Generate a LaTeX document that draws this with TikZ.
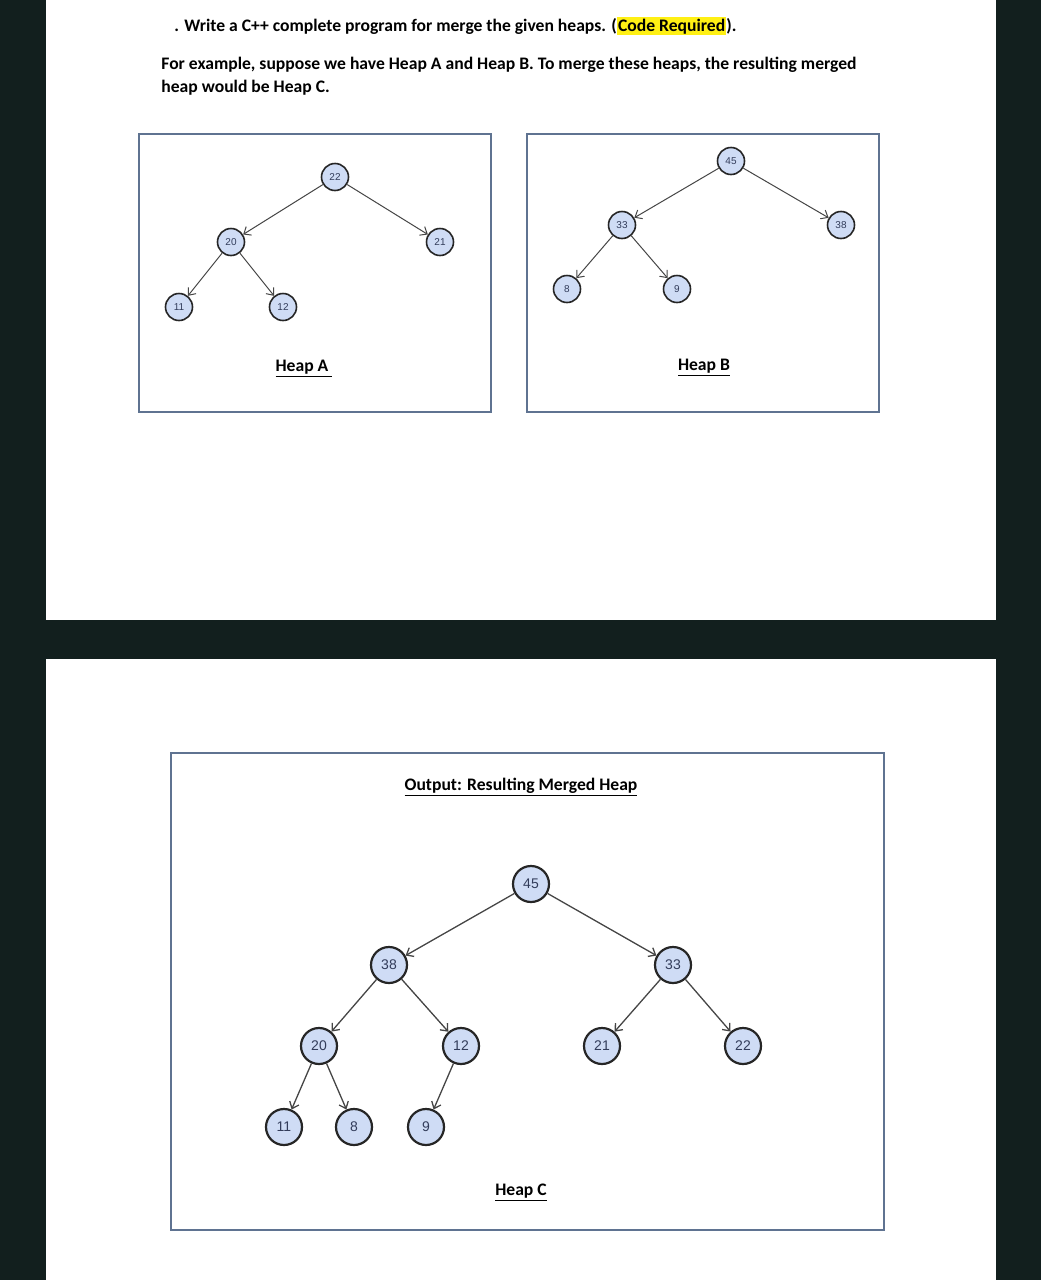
\documentclass[tikz,border=0pt]{standalone}
\usepackage{fontspec}
\setmainfont{Carlito}
\newfontfamily\numfont{Liberation Sans}
\usetikzlibrary{arrows.meta}

\definecolor{pagebg}{RGB}{18,31,30}
\definecolor{nodefill}{RGB}{207,220,245}
\definecolor{numtext}{RGB}{50,60,90}
\definecolor{boxline}{RGB}{95,115,145}
\definecolor{edgegray}{RGB}{70,70,70}
\definecolor{markyellow}{RGB}{255,240,20}

\tikzset{
  heapnode/.style={circle, draw=black!85, fill=nodefill, line width=0.8pt,
    minimum size=13.5pt, inner sep=0pt, text=numtext,
    font=\numfont\fontsize{5}{6}\selectfont},
  bignode/.style={heapnode, line width=1.1pt, minimum size=18pt,
    font=\numfont\fontsize{7}{8}\selectfont},
  heapedge/.style={draw=edgegray, line width=0.5pt,
    -{Straight Barb[length=3pt,width=5pt]}},
  bigedge/.style={heapedge, line width=0.65pt},
  heapbox/.style={draw=boxline, line width=0.7pt},
  pagetext/.style={anchor=base west, inner sep=0pt,
    font=\fontsize{8.8}{10}\bfseries},
  heaplabel/.style={anchor=base, inner sep=0pt, font=\fontsize{8.8}{10}\bfseries}
}

\begin{document}
\begin{tikzpicture}[x=0.5pt, y=-0.5pt]
	\useasboundingbox (0,0) rectangle (1041,1280);
	% Background and pages
	\fill[pagebg] (0,0) rectangle (1041,1280);
	\fill[white] (46,0) rectangle (996,620);
	\fill[white] (46,659) rectangle (996,1280);
	
	% Question text
	\node[pagetext] (q1) at (174,31) {. Write a C++ complete program for merge the given heaps. ({\setlength\fboxsep{0.6pt}\colorbox{markyellow}{Code Required}}).};
	\node[pagetext] (q2) at (161,69) {For example, suppose we have Heap A and Heap B. To merge these heaps, the resulting merged};
	\node[pagetext] (q3) at (161,92) {heap would be Heap C.};
	
	% Heap A
	\draw[heapbox] (139,134) rectangle (491,412);
	\node[heapnode] (a22) at (335,177) {22};
	\node[heapnode] (a20) at (231,242) {20};
	\node[heapnode] (a21) at (440,242) {21};
	\node[heapnode] (a11) at (179,307) {11};
	\node[heapnode] (a12) at (283,307) {12};
	\draw[heapedge] (a22) -- (a20);
	\draw[heapedge] (a22) -- (a21);
	\draw[heapedge] (a20) -- (a11);
	\draw[heapedge] (a20) -- (a12);
	\node[heaplabel] (labA) at (304,371) {\underline{Heap A\ }};
	
	% Heap B
	\draw[heapbox] (527,134) rectangle (879,412);
	\node[heapnode] (b45) at (731,161) {45};
	\node[heapnode] (b33) at (622,225) {33};
	\node[heapnode] (b38) at (841,225) {38};
	\node[heapnode] (b8) at (567,289) {8};
	\node[heapnode] (b9) at (677,289) {9};
	\draw[heapedge] (b45) -- (b33);
	\draw[heapedge] (b45) -- (b38);
	\draw[heapedge] (b33) -- (b8);
	\draw[heapedge] (b33) -- (b9);
	\node[heaplabel] (labB) at (704,370) {\underline{Heap B}};
	
	% Heap C (merged)
	\draw[heapbox] (171,753) rectangle (884,1230);
	\node[heaplabel] (outlab) at (521,790) {\underline{Output: Resulting Merged Heap}};
	\node[bignode] (c45) at (531,884) {45};
	\node[bignode] (c38) at (389,965) {38};
	\node[bignode] (c33) at (673,965) {33};
	\node[bignode] (c20) at (319,1046) {20};
	\node[bignode] (c12) at (461,1046) {12};
	\node[bignode] (c21) at (602,1046) {21};
	\node[bignode] (c22) at (743,1046) {22};
	\node[bignode] (c11) at (284,1127) {11};
	\node[bignode] (c8) at (354,1127) {8};
	\node[bignode] (c9) at (426,1127) {9};
	\draw[bigedge] (c45) -- (c38);
	\draw[bigedge] (c45) -- (c33);
	\draw[bigedge] (c38) -- (c20);
	\draw[bigedge] (c38) -- (c12);
	\draw[bigedge] (c33) -- (c21);
	\draw[bigedge] (c33) -- (c22);
	\draw[bigedge] (c20) -- (c11);
	\draw[bigedge] (c20) -- (c8);
	\draw[bigedge] (c12) -- (c9);
	\node[heaplabel] (labC) at (521,1195) {\underline{Heap C}};
\end{tikzpicture}
\end{document}
